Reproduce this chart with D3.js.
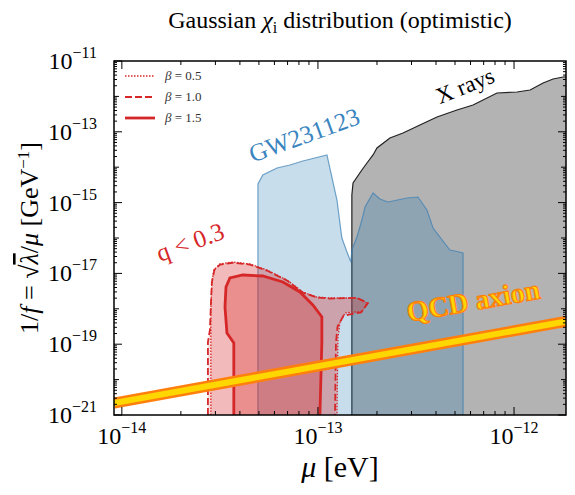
<!DOCTYPE html>
<html><head><meta charset="utf-8">
<script src="https://cdn.jsdelivr.net/npm/d3@7"></script>
<style>body{margin:0;background:#fff}text{font-family:"Liberation Serif","DejaVu Serif",serif}</style>
</head><body><svg width="575" height="495"></svg>
<script>
// all curves stored as [log10 mu (eV), log10 1/f (GeV^-1)]
var xrays = [[-12.827,-21],[-12.827,-14.785],[-12.821,-14.446],[-12.776,-14.079],[-12.75,-13.881],[-12.719,-13.655],[-12.699,-13.458],[-12.633,-13.175],[-12.566,-13.034],[-12.48,-12.808],[-12.393,-12.582],[-12.291,-12.384],[-12.209,-12.243],[-12.087,-11.904],[-11.985,-11.876],[-11.918,-11.819],[-11.852,-11.621],[-11.801,-11.508],[-11.75,-11.452],[-11.735,-11.45],[-11.735,-21]];
var gw = [[-13.306,-21],[-13.306,-14.475],[-13.281,-14.22],[-13.209,-14.023],[-13.143,-13.938],[-13.077,-13.825],[-12.954,-13.655],[-12.929,-14.277],[-12.903,-14.927],[-12.878,-16.0],[-12.852,-16.396],[-12.832,-16.678],[-12.827,-16.339],[-12.801,-15.972],[-12.776,-15.492],[-12.76,-15.124],[-12.719,-14.729],[-12.684,-14.898],[-12.643,-14.983],[-12.546,-14.87],[-12.49,-14.842],[-12.444,-15.209],[-12.413,-15.718],[-12.367,-16.056],[-12.327,-16.339],[-12.301,-16.367],[-12.26,-16.424],[-12.26,-21]];
var beta05 = [[-13.546,-21],[-13.546,-17.949],[-13.541,-17.271],[-13.531,-16.904],[-13.5,-16.734],[-13.434,-16.678],[-13.347,-16.734],[-13.26,-16.904],[-13.158,-17.186],[-13.077,-17.525],[-13.005,-17.667],[-12.939,-17.695],[-12.801,-17.695],[-12.75,-17.836],[-12.776,-18.09],[-12.821,-18.09],[-12.862,-18.119],[-12.888,-18.401],[-12.898,-18.825],[-12.903,-21]];
var beta10 = [[-13.561,-21],[-13.561,-18.938],[-13.551,-18.6],[-13.546,-17.9],[-13.541,-17.25],[-13.528,-16.9],[-13.5,-16.75],[-13.434,-16.7],[-13.347,-16.75],[-13.26,-16.92],[-13.158,-17.2],[-13.077,-17.54],[-13.005,-17.68],[-12.939,-17.71],[-12.801,-17.69],[-12.745,-17.84],[-12.78,-18.1],[-12.83,-18.15],[-12.87,-18.2],[-12.9,-18.5],[-12.908,-18.94],[-12.913,-21]];
var beta15 = [[-13.429,-21],[-13.429,-18.966],[-13.464,-18.684],[-13.474,-17.949],[-13.469,-17.384],[-13.449,-17.13],[-13.383,-17.045],[-13.281,-17.073],[-13.179,-17.243],[-13.092,-17.525],[-13.026,-17.893],[-12.98,-18.232],[-12.98,-18.938],[-12.99,-21]];
var qcd = [[-14.04,-20.66],[-11.735,-18.355]];
var xTicks = [-14,-13,-12];
var yTicks = [-21,-19,-17,-15,-13,-11];
var legendItems = [{label:"0.5",dash:"1.5,1.5",w:1.3},{label:"1.0",dash:"7,3",w:1.8},{label:"1.5",dash:null,w:2.8}];

var L=114,R=566,T=61,B=415;
var svg=d3.select("svg");
var x=d3.scaleLog().domain([Math.pow(10,-14.04),Math.pow(10,-11.735)]).range([L,R]);
var y=d3.scaleLog().domain([1e-21,1e-11]).range([B,T]);
var toV=d=>[Math.pow(10,d[0]),Math.pow(10,d[1])];
var line=d3.line().x(d=>x(toV(d)[0])).y(d=>y(toV(d)[1]));

svg.append("defs").append("clipPath").attr("id","c").append("rect").attr("x",L).attr("y",T).attr("width",R-L).attr("height",B-T);
var g=svg.append("g").attr("clip-path","url(#c)");

g.append("path").attr("d",line(xrays)).attr("fill","#b3b3b3").attr("stroke","none");
g.append("path").attr("d",line(xrays.slice(0,-1))).attr("fill","none").attr("stroke","#222").attr("stroke-width",1.2);
g.append("path").attr("d",line(gw)).attr("fill","#1f77b4").attr("fill-opacity",0.25).attr("stroke","#3a7fb4").attr("stroke-opacity",0.7).attr("stroke-width",1.2);

[[beta05,"1.5,1.5",1.3,0.2],[beta10,"7,3",1.8,0.15],[beta15,null,2.8,0.3]].forEach(function(b){
  g.append("path").attr("d",line(b[0])).attr("fill","#d62728").attr("fill-opacity",b[3])
   .attr("stroke","#d62728").attr("stroke-width",b[2]).attr("stroke-dasharray",b[1]);
});

g.append("path").attr("d",line(qcd)).attr("stroke","#ff7f0e").attr("stroke-width",11).attr("fill","none");
g.append("path").attr("d",line(qcd)).attr("stroke","#ffd700").attr("stroke-width",6).attr("fill","none");

// frame and ticks
svg.append("rect").attr("x",L).attr("y",T).attr("width",R-L).attr("height",B-T).attr("fill","none").attr("stroke","#000").attr("stroke-width",1.5);
var tk=svg.append("g").attr("stroke","#000");
for(var e=-14;e<=-12;e++){for(var m=1;m<10;m++){var v=m*Math.pow(10,e),px=x(v);if(px<L||px>R)continue;var len=m==1?8:4;
  tk.append("line").attr("x1",px).attr("x2",px).attr("y1",B).attr("y2",B-len);
  tk.append("line").attr("x1",px).attr("x2",px).attr("y1",T).attr("y2",T+len);}}
for(var e=-21;e<-11;e++){for(var m=1;m<10;m++){var v=m*Math.pow(10,e),py=y(v);var len=m==1?(e%2?8:5):3;
  tk.append("line").attr("y1",py).attr("y2",py).attr("x1",L).attr("x2",L+len);
  tk.append("line").attr("y1",py).attr("y2",py).attr("x1",R).attr("x2",R-len);}}
tk.append("line").attr("y1",T).attr("y2",T).attr("x1",L).attr("x2",L+8);

xTicks.forEach(function(t){var s=svg.append("text").attr("x",x(Math.pow(10,t))).attr("y",444).attr("text-anchor","middle").attr("font-size",24);
  s.append("tspan").text("10");s.append("tspan").attr("dy",-11).attr("font-size",16).text("−"+(-t));});
yTicks.forEach(function(t){var s=svg.append("text").attr("x",97).attr("y",y(Math.pow(10,t))+8).attr("text-anchor","end").attr("font-size",24);
  s.append("tspan").text("10");s.append("tspan").attr("dy",-11).attr("font-size",16).text("−"+(-t));});

svg.append("text").attr("x",340).attr("y",28).attr("text-anchor","middle").attr("font-size",24)
  .html('Gaussian <tspan font-style="italic">χ</tspan><tspan font-size="16" dy="5">i</tspan><tspan dy="-5"> distribution (optimistic)</tspan>');
svg.append("text").attr("x",340).attr("y",477).attr("text-anchor","middle").attr("font-size",30)
  .html('<tspan font-style="italic">μ</tspan> [eV]');
svg.append("text").attr("transform","translate(38,238) rotate(-90)").attr("text-anchor","middle").attr("font-size",26)
  .html('1/<tspan font-style="italic">f</tspan> = √<tspan text-decoration="overline" font-style="italic">λ</tspan>/<tspan font-style="italic">μ</tspan> [GeV<tspan font-size="17" dy="-9">−1</tspan><tspan dy="9">]</tspan>');

// legend
legendItems.forEach(function(d,i){var ly=76+i*21;
  svg.append("line").attr("x1",125).attr("x2",155).attr("y1",ly).attr("y2",ly).attr("stroke","#d62728").attr("stroke-width",d.w).attr("stroke-dasharray",d.dash);
  svg.append("text").attr("x",165).attr("y",ly+4).attr("font-size",13).attr("fill","#333").html('<tspan font-style="italic">β</tspan> = '+d.label);});

// annotations
svg.append("text").attr("transform","translate(468,93) rotate(-22)").attr("text-anchor","middle").attr("font-size",23).text("X rays");
svg.append("text").attr("transform","translate(307,143) rotate(-20)").attr("text-anchor","middle").attr("font-size",25).attr("fill","#3a85c0").text("GW231123");
svg.append("text").attr("transform","translate(193,250) rotate(-20)").attr("text-anchor","middle").attr("font-size",25).attr("fill","#d62728").text("q < 0.3");
svg.append("text").attr("transform","translate(475,310) rotate(-10)").attr("text-anchor","middle").attr("font-size",28).attr("font-weight","bold")
  .attr("fill","#ffd700").attr("stroke","#ff7f0e").attr("stroke-width",1.2).text("QCD axion");
</script></body></html>
